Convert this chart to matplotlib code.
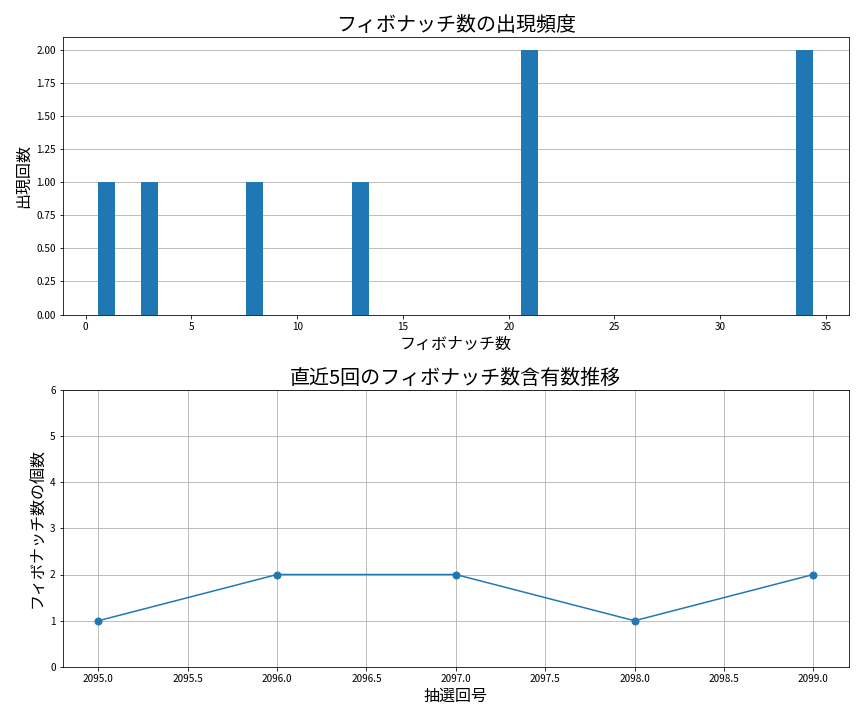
import matplotlib
matplotlib.use('Agg')
import matplotlib.pyplot as plt

plt.rcParams['font.family'] = ['Noto Sans CJK JP', 'DejaVu Sans']

# 出現頻度
fib_numbers = [1, 3, 8, 13, 21, 34]
fib_counts = [1, 1, 1, 1, 2, 2]

# 直近5回
draw_nos = [2095, 2096, 2097, 2098, 2099]
fib_per_draw = [1, 2, 2, 1, 2]

fig, (ax1, ax2) = plt.subplots(2, 1, figsize=(12, 10), dpi=72)

ax1.bar(fib_numbers, fib_counts, width=0.8, color='#1f77b4')
ax1.set_title('フィボナッチ数の出現頻度', fontsize=20)
ax1.set_xlabel('フィボナッチ数', fontsize=16)
ax1.set_ylabel('出現回数', fontsize=16)
ax1.yaxis.set_major_formatter(matplotlib.ticker.FormatStrFormatter('%.2f'))
ax1.grid(axis='y')
ax1.set_axisbelow(True)

ax2.plot(draw_nos, fib_per_draw, marker='o', markersize=7)
ax2.set_title('直近5回のフィボナッチ数含有数推移', fontsize=20)
ax2.set_xlabel('抽選回号', fontsize=16)
ax2.set_ylabel('フィボナッチ数の個数', fontsize=16)
ax2.set_ylim(0, 6)
ax2.xaxis.set_major_formatter(matplotlib.ticker.FormatStrFormatter('%.1f'))
ax2.grid(True)

plt.tight_layout(pad=1.5)
plt.savefig('out.png', dpi=72)
